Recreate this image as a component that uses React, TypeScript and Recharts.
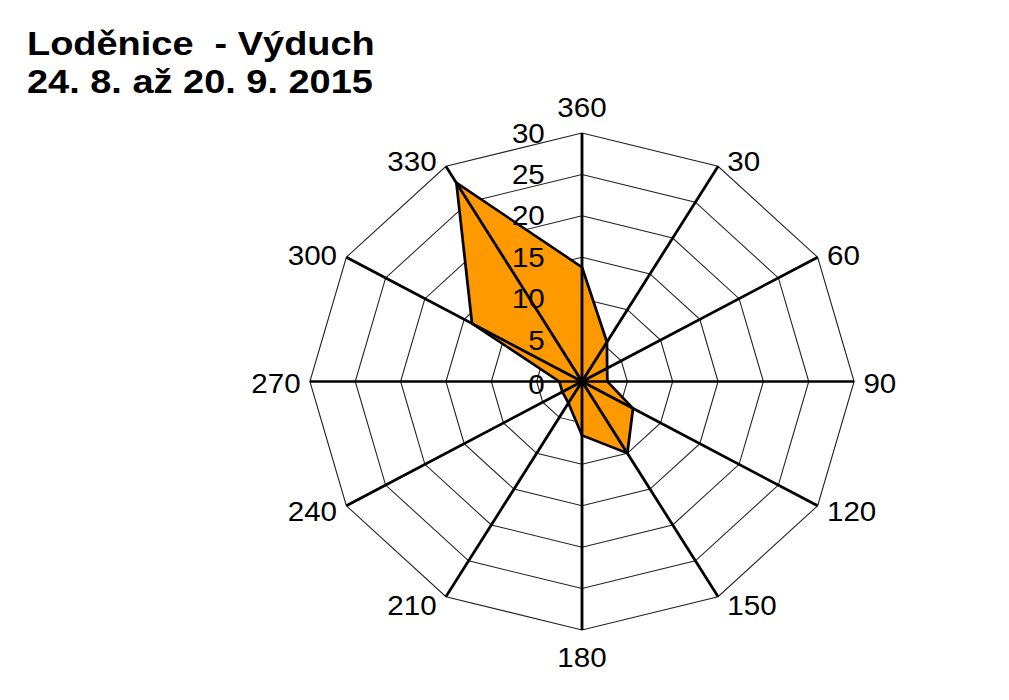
import { PolarAngleAxis, PolarGrid, PolarRadiusAxis, Radar, RadarChart } from "recharts";

const directions = ["360", "30", "60", "90", "120", "150", "180", "210", "240", "270", "300", "330"];
const frequency = [13.8, 5.5, 3.2, 2.8, 6.5, 10, 6.5, 3, 2.5, 2.5, 14, 27.7];
const radiusTicks = [0, 5, 10, 15, 20, 25, 30];
const titleLines = ["Loděnice  - Výduch", "24. 8. až 20. 9. 2015"];

const data = directions.map((dir, i) => ({ dir, value: frequency[i] }));

const CX = 582;
const CY = 381.5;
const R = 248.5;
const SX = 1.095;
const FONT = "'Liberation Sans', Arial, sans-serif";

function AngleTick(props: any) {
  const { payload } = props;
  const a = (payload.coordinate * Math.PI) / 180;
  const c = Math.cos(a);
  const s = Math.sin(a);
  const ex = CX + R * c;
  const ey = CY - R * s;
  const vertical = Math.abs(c) < 0.01;
  const anchor = vertical ? "middle" : c > 0 ? "start" : "end";
  const dx = vertical ? 0 : c > 0 ? 8.5 : -8.5;
  const dy = vertical ? (s > 0 ? -26 : 27) : -8 * s + 2;
  return (
    <text x={ex + dx} y={ey + dy} textAnchor={anchor} dominantBaseline="central" fontSize={27} fontFamily={FONT} fill="#000">
      {payload.value}
    </text>
  );
}

function RadiusTick(props: any) {
  const { x, y, payload } = props;
  return (
    <text x={x - 34} y={y + (payload.value === 0 ? 3 : 0)} textAnchor="end" dominantBaseline="central" fontSize={27} fontFamily={FONT} fill="#000">
      {payload.value}
    </text>
  );
}

export default function App() {
  return (
    <div style={{ position: "absolute", left: 0, top: 0, width: 1009, height: 700, background: "#fff", overflow: "hidden" }}>
      <svg width={1009} height={700} style={{ position: "absolute", left: 0, top: 0 }}>
        {titleLines.map((t, i) => (
          <text key={i} x={0} y={55 + i * 38} transform="translate(27 0) scale(1.15 1)" fontSize={33} fontWeight="bold" fontFamily={FONT} fill="#000" style={{ whiteSpace: "pre" }}>
            {t}
          </text>
        ))}
      </svg>
      <div style={{ position: "absolute", left: 0, top: 0, transform: `scaleX(${SX})`, transformOrigin: `${CX}px ${CY}px` }}>
        <RadarChart width={1009} height={700} data={data} cx={CX} cy={CY} outerRadius={R} margin={{ top: 0, right: 0, bottom: 0, left: 0 }}>
          <PolarGrid gridType="polygon" radialLines={false} stroke="#222" strokeWidth={1} />
          <PolarAngleAxis dataKey="dir" axisLine={false} tickLine={false} tick={<AngleTick />} />
          <PolarRadiusAxis angle={90} domain={[0, 30]} ticks={radiusTicks as any} tickCount={7} type="number" axisLine={false} tickLine={false} tick={<RadiusTick />} />
          <Radar dataKey="value" fill="#ff9900" fillOpacity={1} stroke="#000" strokeWidth={2.5} dot={false} isAnimationActive={false} />
          <PolarGrid gridType="polygon" polarRadius={[]} radialLines stroke="#000" strokeWidth={2.6} zIndex={600} />
        </RadarChart>
      </div>
    </div>
  );
}
